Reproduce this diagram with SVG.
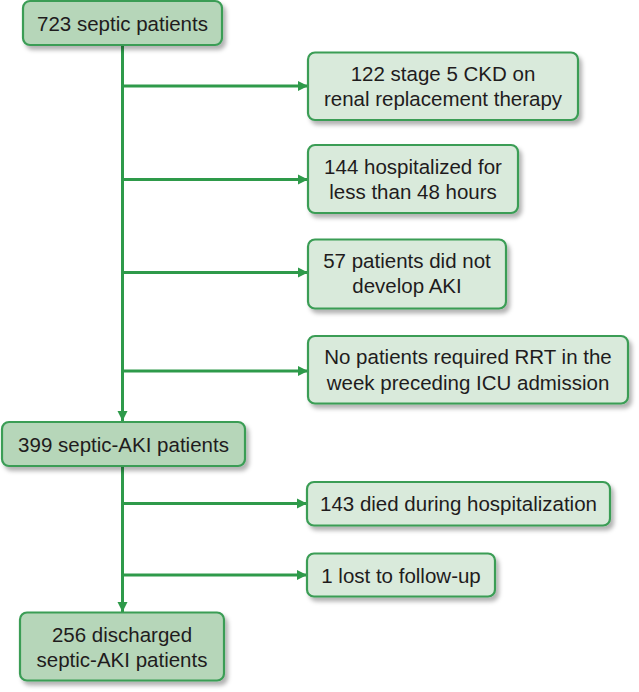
<svg xmlns="http://www.w3.org/2000/svg" width="639" height="692" viewBox="0 0 639 692">
<defs>
<filter id="sh" x="-10%" y="-20%" width="130%" height="160%">
<feDropShadow dx="3" dy="4" stdDeviation="2.2" flood-color="#000" flood-opacity="0.3"/>
</filter>
<marker id="ah" viewBox="0 0 10 10" refX="10" refY="5" markerWidth="10" markerHeight="11" markerUnits="userSpaceOnUse" orient="auto">
<path d="M0,0 L10,5 L0,10 Z" fill="#2e9a4a"/>
</marker>
<style>
.dk{fill:#b6d6b9;stroke:#3a9d55;stroke-width:2.2;filter:url(#sh)}
.lt{fill:#d9eadb;stroke:#3a9d55;stroke-width:2.2;filter:url(#sh)}
text{font-family:"Liberation Sans",Arial,sans-serif;font-size:20.5px;fill:#1f1c1d;text-anchor:middle}
.c{stroke:#2e9a4a;stroke-width:3;fill:none}
</style>
</defs>
<rect width="639" height="692" fill="#fff"/>
<g id="connectors">
<line class="c" x1="122.5" y1="45" x2="122.5" y2="421" marker-end="url(#ah)"/>
<line class="c" x1="122.5" y1="86" x2="308" y2="86" marker-end="url(#ah)"/>
<line class="c" x1="122.5" y1="179.5" x2="308" y2="179.5" marker-end="url(#ah)"/>
<line class="c" x1="122.5" y1="272.5" x2="308" y2="272.5" marker-end="url(#ah)"/>
<line class="c" x1="122.5" y1="371" x2="308" y2="371" marker-end="url(#ah)"/>
<line class="c" x1="122.5" y1="466" x2="122.5" y2="612" marker-end="url(#ah)"/>
<line class="c" x1="122.5" y1="503.5" x2="307" y2="503.5" marker-end="url(#ah)"/>
<line class="c" x1="122.5" y1="575" x2="307" y2="575" marker-end="url(#ah)"/>
</g>
<g id="n1"><rect class="dk" x="23" y="1" width="199" height="44" rx="7"/><text x="122.5" y="31">723 septic patients</text></g>
<g id="n2"><rect class="lt" x="308" y="52.5" width="270" height="67.5" rx="7"/><text x="443" y="80.5">122 stage 5 CKD on</text><text x="443" y="106">renal replacement therapy</text></g>
<g id="n3"><rect class="lt" x="308" y="145" width="210" height="68" rx="7"/><text x="413" y="173.5">144 hospitalized for</text><text x="413" y="199">less than 48 hours</text></g>
<g id="n4"><rect class="lt" x="308" y="239.5" width="198" height="69" rx="7"/><text x="407" y="267.5">57 patients did not</text><text x="407" y="293">develop AKI</text></g>
<g id="n5"><rect class="lt" x="308" y="336" width="320" height="67.5" rx="7"/><text x="468" y="364">No patients required RRT in the</text><text x="468" y="389.5">week preceding ICU admission</text></g>
<g id="n6"><rect class="dk" x="2" y="422" width="243" height="44" rx="7"/><text x="123.5" y="451.5">399 septic-AKI patients</text></g>
<g id="n7"><rect class="lt" x="307" y="482" width="303" height="43.5" rx="7"/><text x="458.5" y="511">143 died during hospitalization</text></g>
<g id="n8"><rect class="lt" x="307" y="553.5" width="188" height="43" rx="7"/><text x="401" y="582.5">1 lost to follow-up</text></g>
<g id="n9"><rect class="dk" x="20" y="612.5" width="204" height="68" rx="7"/><text x="122" y="641.5">256 discharged</text><text x="122" y="667">septic-AKI patients</text></g>
</svg>
